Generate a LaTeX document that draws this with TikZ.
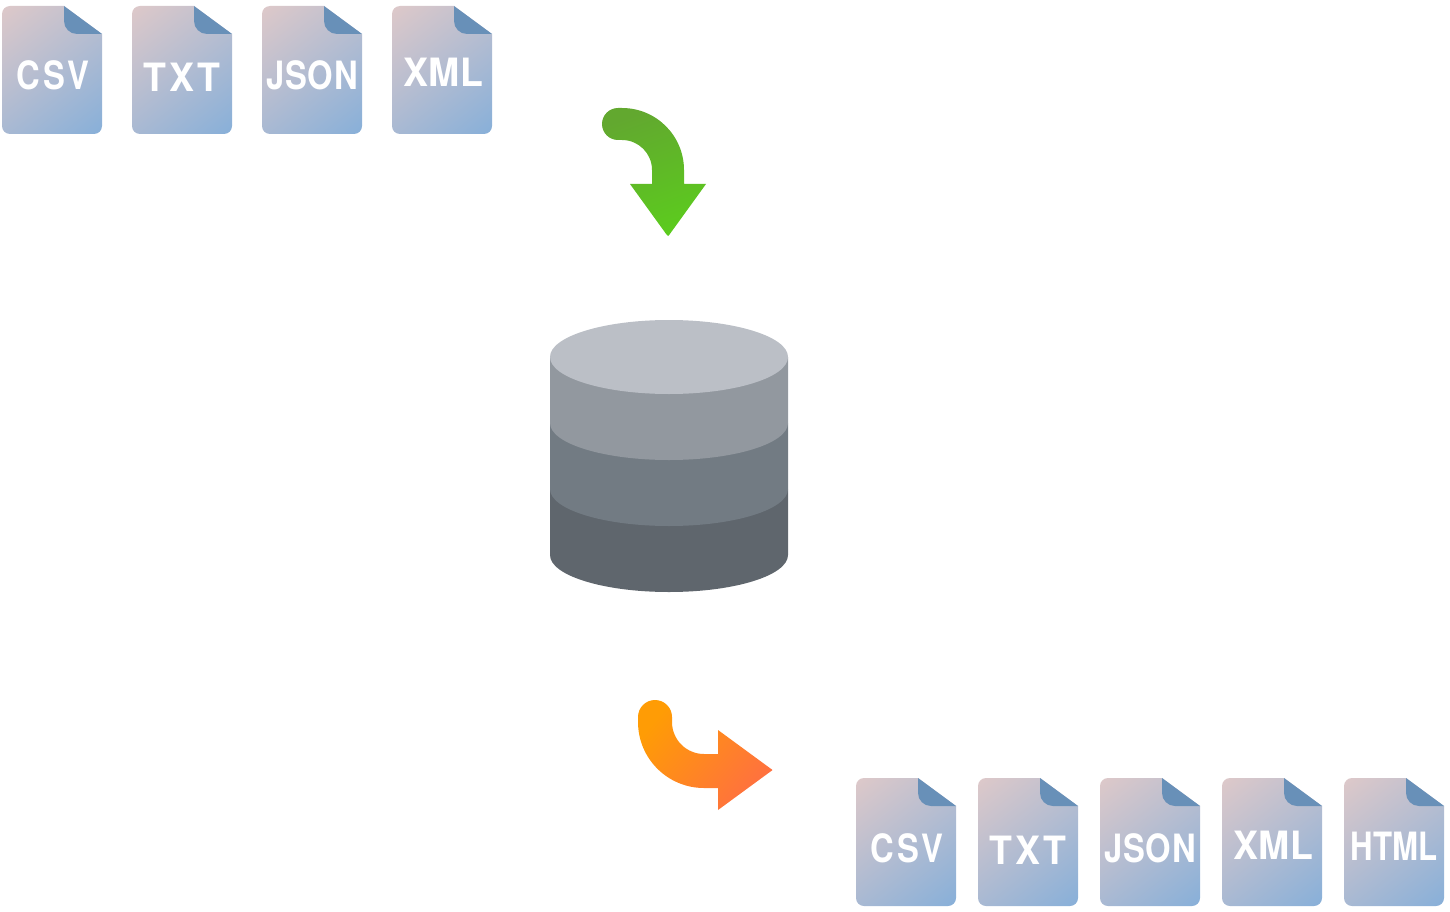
\documentclass[tikz,border=0pt]{standalone}
\usepackage{fontspec}
\newfontfamily\labelfont{TeX Gyre Heros}
\newcommand{\spaced}[2]{\addfontfeature{FakeStretch=#1,LetterSpace=#2}}
\definecolor{pagetl}{HTML}{DFC9C9}
\definecolor{pagebr}{HTML}{86AFD9}
\definecolor{foldblue}{HTML}{6890B8}
\definecolor{dbtop}{HTML}{BBBFC6}
\definecolor{dbone}{HTML}{92989F}
\definecolor{dbtwo}{HTML}{727B83}
\definecolor{dbthree}{HTML}{5F666D}
\definecolor{greentl}{HTML}{62A82F}
\definecolor{greenbr}{HTML}{5CCB1E}
\definecolor{orangetl}{HTML}{FF9C05}
\definecolor{orangebr}{HTML}{FF7040}
\pgfdeclareverticalshading{pagefade}{100bp}{color(0bp)=(pagebr); color(14bp)=(pagebr); color(86bp)=(pagetl); color(100bp)=(pagetl)}
\tikzset{
  fileicon/.pic={
    \shade[shading=pagefade,shading angle=38]
      (8,0) -- (62,0) -- (100,28) -- (100,120) arc[start angle=0,end angle=90,radius=8]
      -- (8,128) arc[start angle=90,end angle=180,radius=8]
      -- (0,8) arc[start angle=180,end angle=270,radius=8] -- cycle;
    \fill[foldblue] (62,0) -- (100,28) -- (75,28) arc[start angle=90,end angle=180,radius=13] -- cycle;
  },
  filetext/.style={text=white,font=\labelfont\bfseries\fontsize{39}{39}\selectfont,inner sep=0pt,anchor=base},
}
\newcommand{\filelabel}[6]{
  \node[filetext] (#1) at (#2,#3) {\spaced{#5}{#6}#4};
}
\begin{document}
\begin{tikzpicture}[x=1pt,y=-1pt]
\useasboundingbox (0,0) rectangle (1450,912);

% Input files
\pic at (2,6) {fileicon};
\pic at (132,6) {fileicon};
\pic at (262,6) {fileicon};
\pic at (392,6) {fileicon};
\filelabel{incsv}{53}{90}{CSV}{.84}{8}
\filelabel{intxt}{182}{92}{TXT}{.96}{8}
\filelabel{injson}{312}{90}{JSON}{.84}{2}
\filelabel{inxml}{443}{87}{XML}{.96}{1}

% Green arrow
\shade[top color=greentl,bottom color=greenbr,shading angle=20]
  (618,108) -- (622,108) arc[start angle=-90,end angle=0,radius=62]
  -- (684,184) -- (706,184) -- (669.5,234.5) .. controls (668,236.5) .. (666.5,234.5)
  -- (630,184) -- (652,184) -- (652,170) arc[start angle=0,end angle=-90,radius=30]
  -- (618,140) arc[start angle=90,end angle=270,radius=16] -- cycle;

% Database
\fill[dbthree] (550,489) -- (550,555) arc[start angle=180,end angle=0,x radius=119,y radius=37]
  -- (788,489) -- cycle;
\fill[dbtwo] (550,423) -- (550,489) arc[start angle=180,end angle=0,x radius=119,y radius=37]
  -- (788,423) -- cycle;
\fill[dbone] (550,357) -- (550,423) arc[start angle=180,end angle=0,x radius=119,y radius=37]
  -- (788,357) -- cycle;
\fill[dbtop] (669,357) ellipse[x radius=119,y radius=37];

% Orange arrow
\shade[top color=orangetl,bottom color=orangebr,shading angle=50]
  (638,717) arc[start angle=180,end angle=360,radius=17]
  -- (672,722) arc[start angle=180,end angle=90,radius=32]
  -- (718,754) -- (718,730) -- (770.5,768.5) .. controls (773,770) .. (770.5,771.5)
  -- (718,810) -- (718,788) -- (704,788) arc[start angle=90,end angle=180,radius=66] -- cycle;

% Output files
\pic at (856,778) {fileicon};
\pic at (978,778) {fileicon};
\pic at (1100,778) {fileicon};
\pic at (1222,778) {fileicon};
\pic at (1344,778) {fileicon};
\filelabel{outcsv}{907}{862}{CSV}{.84}{8}
\filelabel{outtxt}{1028}{864}{TXT}{.96}{8}
\filelabel{outjson}{1150}{862}{JSON}{.84}{2}
\filelabel{outxml}{1273}{859}{XML}{.96}{1}
\filelabel{outhtml}{1394}{860}{HTML}{.8}{0}
\end{tikzpicture}
\end{document}
